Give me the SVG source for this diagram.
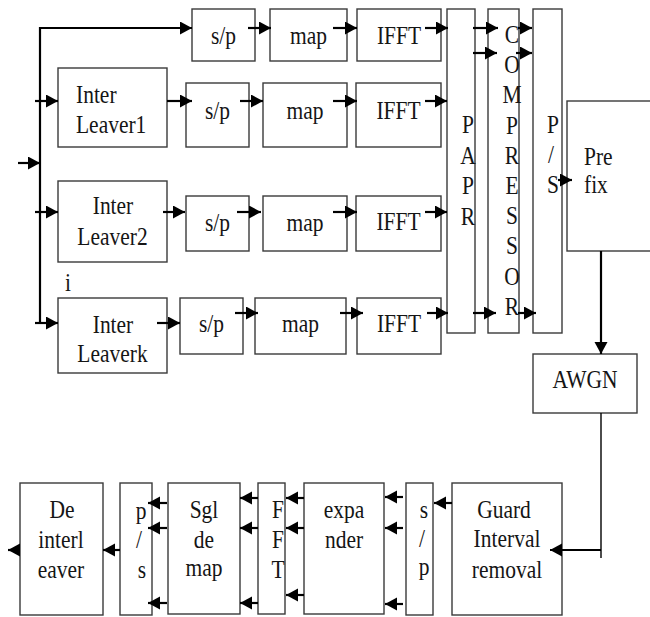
<svg xmlns="http://www.w3.org/2000/svg" width="650" height="617" viewBox="0 0 650 617">
<defs>
<marker id="ah" markerUnits="userSpaceOnUse" markerWidth="13" markerHeight="14" refX="12" refY="6.5" orient="auto"><path d="M0,0 L12,6.5 L0,13 z" fill="#000"/></marker>
</defs>
<style>
.b{fill:#fff;stroke:#3a3a3a;stroke-width:1.4}
.t{font-family:"Liberation Serif","Times New Roman",serif;font-size:21.5px;fill:#151515}
.m{text-anchor:middle}
.c{fill:none;stroke:#000;stroke-width:2.2}
.a{marker-end:url(#ah)}
.thin{stroke-width:1.4}
</style>
<rect width="650" height="617" fill="#fff"/>
<g id="sp0"><rect class="b" x="192" y="9" width="63" height="52"/><text class="t m" transform="translate(223.5 44) scale(1 1.17)">s/p</text></g>
<g id="map0"><rect class="b" x="270" y="9" width="77" height="52"/><text class="t m" transform="translate(308.5 44) scale(1 1.17)">map</text></g>
<g id="ifft0"><rect class="b" x="357" y="9" width="84" height="52"/><text class="t m" transform="translate(399 44) scale(1 1.17)">IFFT</text></g>
<g id="il1"><rect class="b" x="58" y="68" width="109" height="79"/><text class="t" transform="translate(76 103) scale(1 1.17)">Inter</text><text class="t" transform="translate(76 133) scale(1 1.17)">Leaver1</text></g>
<g id="sp1"><rect class="b" x="186" y="83" width="63" height="64"/><text class="t m" transform="translate(217.5 119) scale(1 1.17)">s/p</text></g>
<g id="map1"><rect class="b" x="263" y="83" width="84" height="64"/><text class="t m" transform="translate(305 119) scale(1 1.17)">map</text></g>
<g id="ifft1"><rect class="b" x="356" y="83" width="85" height="64"/><text class="t m" transform="translate(398.5 119) scale(1 1.17)">IFFT</text></g>
<g id="il2"><rect class="b" x="58" y="181" width="109" height="81"/><text class="t m" transform="translate(113 214) scale(1 1.17)">Inter</text><text class="t m" transform="translate(112.5 245) scale(1 1.17)">Leaver2</text></g>
<g id="sp2"><rect class="b" x="186" y="196" width="63" height="55"/><text class="t m" transform="translate(217.5 231) scale(1 1.17)">s/p</text></g>
<g id="map2"><rect class="b" x="263" y="196" width="84" height="55"/><text class="t m" transform="translate(305 231) scale(1 1.17)">map</text></g>
<g id="ifft2"><rect class="b" x="356" y="196" width="85" height="55"/><text class="t m" transform="translate(398.5 230) scale(1 1.17)">IFFT</text></g>
<g id="lbl-i"><text class="t m" transform="translate(68 291) scale(1 1.17)">i</text></g>
<g id="ilk"><rect class="b" x="58" y="298" width="109" height="75"/><text class="t m" transform="translate(113 333) scale(1 1.17)">Inter</text><text class="t m" transform="translate(112.5 362) scale(1 1.17)">Leaverk</text></g>
<g id="spk"><rect class="b" x="180" y="298" width="63" height="56"/><text class="t m" transform="translate(211.5 332) scale(1 1.17)">s/p</text></g>
<g id="mapk"><rect class="b" x="255" y="298" width="91" height="56"/><text class="t m" transform="translate(300.5 332) scale(1 1.17)">map</text></g>
<g id="ifftk"><rect class="b" x="357" y="298" width="84" height="56"/><text class="t m" transform="translate(399 332) scale(1 1.17)">IFFT</text></g>
<g id="papr"><rect class="b" x="447" y="9" width="28" height="324"/>
<text class="t m" transform="translate(468 133) scale(1 1.17)">P</text>
<text class="t m" transform="translate(468 164) scale(1 1.17)">A</text>
<text class="t m" transform="translate(468 194) scale(1 1.17)">P</text>
<text class="t m" transform="translate(468 225) scale(1 1.17)">R</text></g>
<g id="compressor"><rect class="b" x="488" y="9" width="31" height="324"/>
<text class="t m" transform="translate(512 43) scale(1 1.17)">C</text>
<text class="t m" transform="translate(512 73) scale(1 1.17)">O</text>
<text class="t m" transform="translate(512 103) scale(1 1.17)">M</text>
<text class="t m" transform="translate(512 134) scale(1 1.17)">P</text>
<text class="t m" transform="translate(512 164) scale(1 1.17)">R</text>
<text class="t m" transform="translate(512 194) scale(1 1.17)">E</text>
<text class="t m" transform="translate(512 224) scale(1 1.17)">S</text>
<text class="t m" transform="translate(512 254) scale(1 1.17)">S</text>
<text class="t m" transform="translate(512 285) scale(1 1.17)">O</text>
<text class="t m" transform="translate(512 315) scale(1 1.17)">R</text></g>
<g id="ps"><rect class="b" x="533" y="9" width="29" height="324"/>
<text class="t m" transform="translate(553 133) scale(1 1.17)">P</text>
<text class="t m" transform="translate(551 163) scale(1 1.17)">/</text>
<text class="t m" transform="translate(553 193) scale(1 1.17)">S</text></g>
<g id="prefix"><rect class="b" x="567" y="101" width="90" height="150"/><text class="t" transform="translate(584 165) scale(1 1.17)">Pre</text><text class="t" transform="translate(584 193) scale(1 1.17)">fix</text></g>
<g id="awgn"><rect class="b" x="533" y="354" width="104" height="59"/><text class="t m" transform="translate(585 388) scale(1 1.17)">AWGN</text></g>
<g id="guard"><rect class="b" x="452" y="483" width="110" height="132"/>
<text class="t m" transform="translate(504 518) scale(1 1.17)">Guard</text>
<text class="t m" transform="translate(507 547) scale(1 1.17)">Interval</text>
<text class="t m" transform="translate(507 578) scale(1 1.17)">removal</text></g>
<g id="sp-rx"><rect class="b" x="406" y="483" width="27" height="132"/>
<text class="t m" transform="translate(424 518) scale(1 1.17)">s</text>
<text class="t m" transform="translate(422 547) scale(1 1.17)">/</text>
<text class="t m" transform="translate(424 575) scale(1 1.17)">p</text></g>
<g id="expander"><rect class="b" x="304" y="483" width="80" height="131"/>
<text class="t m" transform="translate(344 518) scale(1 1.17)">expa</text>
<text class="t m" transform="translate(344 548) scale(1 1.17)">nder</text></g>
<g id="fft"><rect class="b" x="258" y="483" width="27" height="131"/>
<text class="t m" transform="translate(278 518) scale(1 1.17)">F</text>
<text class="t m" transform="translate(278 548) scale(1 1.17)">F</text>
<text class="t m" transform="translate(278 578) scale(1 1.17)">T</text></g>
<g id="sgl-demap"><rect class="b" x="168" y="483" width="72" height="131"/>
<text class="t m" transform="translate(204 518) scale(1 1.17)">Sgl</text>
<text class="t m" transform="translate(204 548) scale(1 1.17)">de</text>
<text class="t m" transform="translate(204 576) scale(1 1.17)">map</text></g>
<g id="ps-rx"><rect class="b" x="120" y="483" width="32" height="132"/>
<text class="t m" transform="translate(141 519) scale(1 1.17)">p</text>
<text class="t m" transform="translate(139 548) scale(1 1.17)">/</text>
<text class="t m" transform="translate(142 578) scale(1 1.17)">s</text></g>
<g id="deinterleaver"><rect class="b" x="20" y="483" width="83" height="132"/>
<text class="t m" transform="translate(62 518) scale(1 1.17)">De</text>
<text class="t m" transform="translate(61 548) scale(1 1.17)">interl</text>
<text class="t m" transform="translate(61 578) scale(1 1.17)">eaver</text></g>
<g id="connectors">
<path class="c a" d="M40,323 V28 H192"/>
<path class="c a" d="M18,163 H40"/>
<path class="c a" d="M35,101 H58"/>
<path class="c a" d="M35,212 H58"/>
<path class="c a" d="M35,323 H58"/>
<path class="c a" d="M248,28 H271"/>
<path class="c a" d="M333,28 H357"/>
<path class="c a" d="M425,28 H448"/>
<path class="c a" d="M167,101 H192"/>
<path class="c a" d="M240,101 H263"/>
<path class="c a" d="M333,101 H357"/>
<path class="c a" d="M425,101 H447"/>
<path class="c a" d="M163,212 H185"/>
<path class="c a" d="M237,212 H261"/>
<path class="c a" d="M333,212 H357"/>
<path class="c a" d="M425,212 H447"/>
<path class="c a" d="M157,323 H180"/>
<path class="c a" d="M235,313 H258"/>
<path class="c a" d="M340,313 H363"/>
<path class="c a" d="M427,313 H448"/>
<path class="c a" d="M473,28 H498"/>
<path class="c a" d="M473,53 H497"/>
<path class="c a" d="M473,313 H496"/>
<path class="c a" d="M518,28 H532"/>
<path class="c a" d="M516,53 H532"/>
<path class="c a" d="M518,313 H536"/>
<path class="c a" d="M558,180 H572"/>
<path class="c a" d="M601,251 V354"/>
<path class="c thin" d="M601,413 V558"/>
<path class="c a" d="M601,550 H550"/>
<path class="c a" d="M452,503 H434"/>
<path class="c a" d="M403,497 H385"/>
<path class="c a" d="M403,528 H385"/>
<path class="c a" d="M403,604 H385"/>
<path class="c a" d="M304,498 H286"/>
<path class="c a" d="M304,528 H286"/>
<path class="c a" d="M304,595 H286"/>
<path class="c a" d="M258,498 H240"/>
<path class="c a" d="M258,528 H240"/>
<path class="c a" d="M258,603 H240"/>
<path class="c a" d="M167,503 H148"/>
<path class="c a" d="M167,528 H148"/>
<path class="c a" d="M167,603 H148"/>
<path class="c a" d="M120,550 H103"/>
<path class="c a" d="M20,550 H8"/>
</g>
</svg>
